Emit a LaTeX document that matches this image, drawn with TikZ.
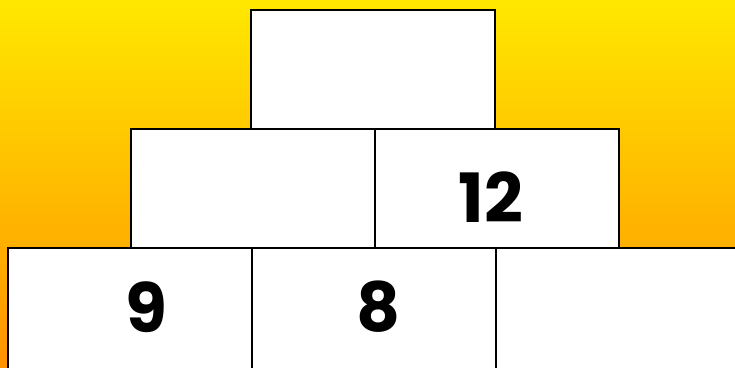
\documentclass[tikz,border=0pt]{standalone}
\usepackage{fontspec}
\setmainfont{Poppins}
\definecolor{bgtop}{HTML}{FFE800}
\definecolor{bgbot}{HTML}{FF9200}
\begin{document}
\begin{tikzpicture}[x=1pt,y=-1pt,
  cell/.style={draw=black, fill=white, line width=2.5pt, minimum width=244pt, minimum height=119pt, inner sep=0pt},
  num/.style={font=\fontsize{68}{70}\selectfont\bfseries, inner sep=0pt, anchor=center}]
\useasboundingbox (0,0) rectangle (735,367);
\clip (0,0) rectangle (735,367);
\shade[top color=bgtop, bottom color=bgbot] (0,0) rectangle (735,367);
\node[cell] (top) at (373,69.5) {};
\node[cell] (ml) at (253,188.5) {};
\node[cell] (mr) at (497,188.5) {};
\node[cell, minimum height=122pt] (bl) at (130,309) {};
\node[cell, minimum height=122pt] (bm) at (374,309) {};
\node[cell, minimum height=122pt] (br) at (618,309) {};
\node[num] (n12) at (491,197) {12};
\node[num] (n9) at (146,307) {9};
\node[num] (n8) at (379,307) {8};
\end{tikzpicture}
\end{document}
